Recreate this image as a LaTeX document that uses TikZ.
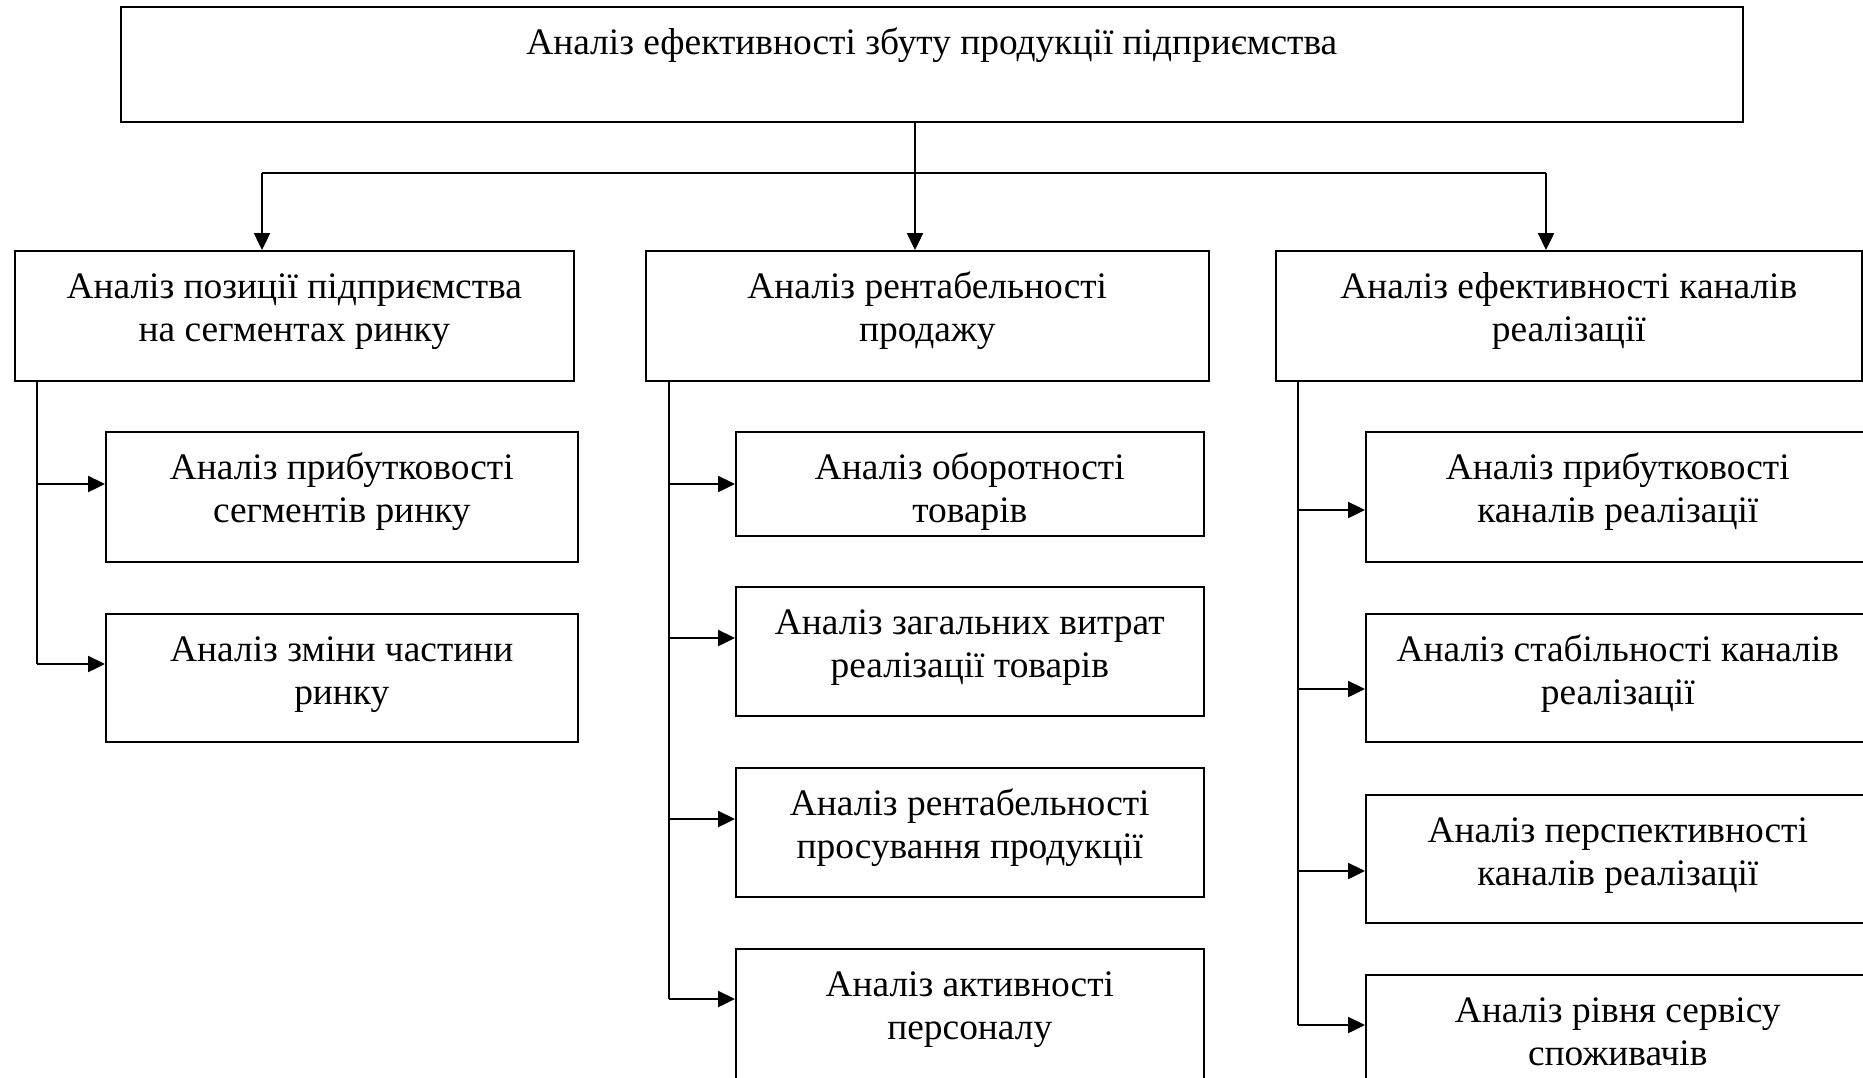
\documentclass[tikz,border=0pt]{standalone}
\usepackage{fontspec}
\setmainfont{Liberation Serif}
\usetikzlibrary{arrows.meta}

\newlength\px
\setlength\px{0.5pt}
\newcommand{\cell}[3]{\parbox[t][#2\px][t]{#1\px}{\centering\vspace*{8.8pt}\strut #3\par}}

\begin{document}
\begin{tikzpicture}[x=0.5pt, y=-0.5pt,
  box/.style={draw, line width=0.8pt, inner sep=0pt, anchor=north west,
    font=\fontsize{18.7pt}{21.5pt}\selectfont},
  conn/.style={line width=1pt},
  arr/.style={line width=1.2pt, -{Triangle[length=8.5pt,width=8pt]}}]

\useasboundingbox (0,0) rectangle (1863,1077);

% top level
\node[box] (main) at (120,6) {\cell{1622}{115}{Аналіз ефективності збуту продукції підприємства}};

% second level
\node[box] (pos)  at (14,250)   {\cell{559}{130}{Аналіз позиції підприємства\\на сегментах ринку}};
\node[box] (rent) at (645,250)  {\cell{563}{130}{Аналіз рентабельності\\продажу}};
\node[box] (chan) at (1275,250) {\cell{586}{130}{Аналіз ефективності каналів\\реалізації}};

% third level, left
\node[box] (pos1) at (105,431) {\cell{472}{130}{Аналіз прибутковості\\сегментів ринку}};
\node[box] (pos2) at (105,613) {\cell{472}{128}{Аналіз зміни частини\\ринку}};

% third level, middle
\node[box] (rent1) at (735,431) {\cell{468}{104}{Аналіз оборотності\\товарів}};
\node[box] (rent2) at (735,586) {\cell{468}{129}{Аналіз загальних витрат\\реалізації товарів}};
\node[box] (rent3) at (735,767) {\cell{468}{129}{Аналіз рентабельності\\просування продукції}};
\node[box] (rent4) at (735,948) {\cell{468}{140}{Аналіз активності\\персоналу}};

% third level, right
\node[box] (chan1) at (1365,431) {\cell{504}{130}{Аналіз прибутковості\\каналів реалізації}};
\node[box] (chan2) at (1365,613) {\cell{504}{128}{Аналіз стабільності каналів\\реалізації}};
\node[box] (chan3) at (1365,794) {\cell{504}{128}{Аналіз перспективності\\каналів реалізації}};
\node[box] (chan4) at (1365,974) {\cell{504}{140}{Аналіз рівня сервісу\\споживачів}};

% upper tree
\coordinate (trunk) at (915,173);
\coordinate (jpos)  at (262,173);
\coordinate (jchan) at (1546,173);
\draw[conn] (trunk |- main.south) -- (trunk);
\draw[conn] (jpos) -- (jchan);
\draw[arr] (jpos) -- (jpos |- pos.north);
\draw[arr] (trunk) -- (trunk |- rent.north);
\draw[arr] (jchan) -- (jchan |- chan.north);

% lower trees
\coordinate (spos)  at ([xshift=23\px]pos.south west);
\coordinate (srent) at ([xshift=24\px]rent.south west);
\coordinate (schan) at ([xshift=23\px]chan.south west);

\foreach \n/\d in {pos1/53, pos2/51, rent1/53, rent2/52, rent3/52, rent4/51,
                   chan1/79, chan2/76, chan3/77, chan4/51}
  \path ([yshift=-\d\px]\n.north west) coordinate (in-\n);

\draw[conn] (spos) -- (spos |- in-pos2);
\draw[conn] (srent) -- (srent |- in-rent4);
\draw[conn] (schan) -- (schan |- in-chan4);

\foreach \n in {pos1,pos2}
  \draw[arr] (spos |- in-\n) -- (in-\n);
\foreach \n in {rent1,rent2,rent3,rent4}
  \draw[arr] (srent |- in-\n) -- (in-\n);
\foreach \n in {chan1,chan2,chan3,chan4}
  \draw[arr] (schan |- in-\n) -- (in-\n);

\end{tikzpicture}
\end{document}
